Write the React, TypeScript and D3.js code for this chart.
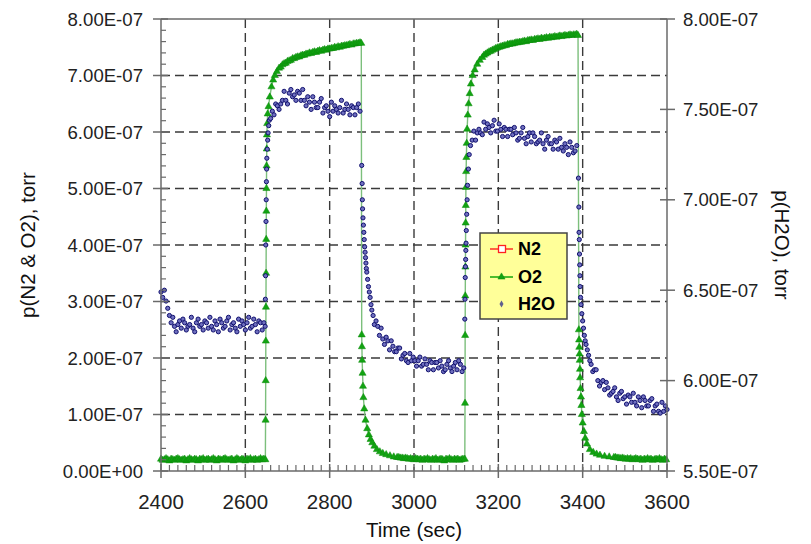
import React from 'react';
import * as d3 from 'd3';

const W = 811, H = 544;
const X_TICKS = [2400, 2600, 2800, 3000, 3200, 3400, 3600];
const Y_LEFT_TICKS = [0, 1, 2, 3, 4, 5, 6, 7, 8];
const Y_LEFT_LABELS = ["0.00E+00", "1.00E-07", "2.00E-07", "3.00E-07", "4.00E-07", "5.00E-07", "6.00E-07", "7.00E-07", "8.00E-07"];
const Y_RIGHT_TICKS = [5.5, 6, 6.5, 7, 7.5, 8];
const Y_RIGHT_LABELS = ["5.50E-07", "6.00E-07", "6.50E-07", "7.00E-07", "7.50E-07", "8.00E-07"];
const SERIES = ["N2", "O2", "H2O"];

// O2, units of 1e-7 torr (left axis). Regular-sampled stretches: start time, step, values
const O2_SEG_1 = { t0: 2400, dt: 4, v: [0.21,0.19,0.20,0.22,0.20,0.18,0.21,0.20,0.19,0.21,0.22,0.20,0.19,0.20,0.21,0.18,0.20,0.22,0.20,0.19,0.21,0.20,0.18,0.21,0.20,0.22,0.19,0.20,0.21,0.19,0.20,0.22,0.20,0.18,0.21,0.20,0.19,0.21,0.22,0.20,0.19,0.20,0.21,0.18,0.20,0.22,0.20,0.19,0.21,0.20,0.18,0.21,0.20,0.22,0.19,0.20,0.21,0.19,0.20,0.22,0.20,0.21] };
const O2_RISE_1 = [[2647.5,0.2],[2648,0.9],[2648.3,1.6],[2648.6,2.3],[2648.9,2.9],[2649.2,3.5],[2649.5,4.1],[2649.8,4.6],[2650.1,5.0],[2650.4,5.4],[2650.8,5.7],[2651.2,5.95],[2651.8,6.15],[2653,6.32],[2655,6.45],[2658,6.62],[2662,6.8],[2666,6.92],[2670,7.0],[2675,7.07],[2680,7.13]];
const O2_SEG_2 = { t0: 2684, dt: 4, v: [7.15,7.19,7.21,7.22,7.25,7.26,7.27,7.30,7.30,7.32,7.33,7.33,7.35,7.36,7.36,7.38,7.38,7.40,7.39,7.41,7.42,7.41,7.43,7.44,7.43,7.45,7.46,7.45,7.47,7.47,7.48,7.48,7.50,7.49,7.51,7.50,7.52,7.52,7.53,7.53,7.54,7.55,7.54,7.56,7.56,7.57,7.57,7.58] };
const O2_DROP_1 = [[2875,7.57],[2876,2.41],[2876.5,2.2],[2877,1.96],[2878,1.73],[2879,1.5],[2880,1.3],[2882,1.1],[2885,0.9],[2889,0.75],[2893,0.64],[2897,0.56],[2901,0.5],[2906,0.44],[2912,0.38],[2919,0.34],[2926,0.31],[2934,0.29],[2943,0.27],[2952,0.25],[2960,0.24]];
const O2_SEG_3 = { t0: 2964, dt: 4, v: [0.24,0.23,0.23,0.22,0.23,0.22,0.21,0.22,0.21,0.20,0.22,0.21,0.20,0.21,0.19,0.21,0.20,0.22,0.20,0.19,0.21,0.20,0.22,0.19,0.20,0.21,0.20,0.18,0.21,0.20,0.22,0.20,0.19,0.21,0.20,0.21,0.19,0.20,0.21] };
const O2_RISE_2 = [[3120.5,0.21],[3121,1.2],[3121.3,2.4],[3121.6,3.1],[3121.9,3.61],[3122.2,4.0],[3122.5,4.39],[3122.8,4.7],[3123.1,5.02],[3123.6,5.3],[3124.2,5.55],[3125,5.8],[3126,6.05],[3127.5,6.3],[3129.5,6.5],[3132,6.68],[3135,6.85],[3139,7.0],[3144,7.1],[3150,7.2],[3156,7.27],[3162,7.32]];
const O2_SEG_4 = { t0: 3166, dt: 4, v: [7.36,7.38,7.40,7.42,7.43,7.45,7.46,7.48,7.49,7.50,7.51,7.52,7.53,7.53,7.55,7.55,7.56,7.56,7.57,7.58,7.58,7.59,7.59,7.60,7.61,7.60,7.62,7.62,7.63,7.62,7.64,7.64,7.65,7.64,7.66,7.65,7.66,7.67,7.66,7.68,7.67,7.68,7.69,7.68,7.69,7.70,7.69,7.70,7.71,7.70,7.71,7.72,7.71,7.72,7.72,7.73] };
const O2_DROP_2 = [[3389,7.71],[3391,2.5],[3391.5,2.32],[3392,2.19],[3392.5,2.07],[3393,1.96],[3393.5,1.8],[3394,1.65],[3395,1.46],[3396,1.31],[3397,1.16],[3398,1.0],[3400,0.85],[3403,0.7],[3406,0.58],[3410,0.48],[3417,0.38],[3425,0.33],[3433,0.3],[3441,0.28],[3452,0.26],[3463,0.25],[3474,0.24]];
const O2_SEG_5 = { t0: 3478, dt: 4, v: [0.24,0.23,0.23,0.22,0.23,0.22,0.21,0.22,0.21,0.22,0.20,0.21,0.22,0.21,0.20,0.21,0.19,0.21,0.20,0.22,0.20,0.21,0.19,0.20,0.21,0.20,0.22,0.20,0.19,0.21,0.20] };

// H2O, units of 1e-7 torr (right axis)
const H2O_SEG_1 = { t0: 2400, dt: 4, v: [6.49,6.46,6.50,6.44,6.40,6.36,6.32,6.35,6.30,6.27,6.31,6.33,6.29,6.34,6.32,6.28,6.30,6.31,6.35,6.29,6.27,6.32,6.34,6.30,6.31,6.28,6.33,6.32,6.29,6.35,6.30,6.28,6.33,6.31,6.27,6.34,6.32,6.29,6.30,6.33,6.35,6.28,6.31,6.32,6.29,6.27,6.34,6.30,6.33,6.31,6.28,6.32,6.35,6.29,6.30,6.34,6.31,6.27,6.33,6.32,6.28,6.32] };
const H2O_RISE_1 = [[2647,6.30],[2647.5,6.45],[2648,6.58],[2648.5,6.75],[2649,6.88],[2649.5,7.0],[2650,7.1],[2650.5,7.17],[2651,7.23],[2652,7.28],[2653,7.33],[2654,7.37],[2655.5,7.41],[2657,7.44]];
const H2O_SEG_2 = { t0: 2660, dt: 4, v: [7.45,7.49,7.47,7.53,7.52,7.50,7.53,7.55,7.60,7.55,7.53,7.59,7.61,7.57,7.58,7.55,7.60,7.59,7.55,7.61,7.55,7.52,7.57,7.54,7.50,7.57,7.54,7.51,7.51,7.54,7.56,7.48,7.51,7.52,7.49,7.46,7.54,7.49,7.52,7.50,7.48,7.51,7.55,7.48,7.50,7.53,7.50,7.47,7.52,7.51,7.47,7.51,7.53,7.49] };
const H2O_DROP_1 = [[2876,7.19],[2877,7.09],[2877.5,7.0],[2878,6.95],[2879,6.90],[2880,6.86],[2881,6.82],[2882,6.78],[2883,6.74],[2884,6.71],[2885,6.68],[2886,6.65],[2887,6.62],[2888,6.60],[2890,6.56],[2892,6.52],[2894,6.49],[2896,6.46],[2898,6.42],[2900,6.39],[2903,6.36]];
const H2O_SEG_3 = { t0: 2906, dt: 4, v: [6.31,6.33,6.30,6.25,6.29,6.23,6.20,6.24,6.22,6.17,6.22,6.19,6.16,6.16,6.18,6.18,6.12,6.14,6.15,6.11,6.10,6.15,6.11,6.13,6.11,6.08,6.11,6.13,6.08,6.09,6.12,6.09,6.06,6.11,6.10,6.06,6.10,6.10,6.07,6.11,6.08,6.05,6.06,6.09,6.11,6.07,6.05,6.08,6.10,6.06,6.11,6.09,6.05,6.07] };
const H2O_RISE_2 = [[3120.5,6.34],[3121,6.45],[3121.5,6.57],[3122,6.63],[3122.5,6.67],[3123,6.72],[3123.5,6.76],[3124,6.83],[3125,6.92],[3126,7.0],[3127,7.08],[3129,7.17],[3131,7.25],[3134,7.30],[3138,7.33]];
const H2O_SEG_4 = { t0: 3142, dt: 4, v: [7.38,7.33,7.37,7.39,7.37,7.36,7.43,7.39,7.42,7.40,7.37,7.41,7.44,7.38,7.38,7.42,7.39,7.35,7.40,7.39,7.35,7.39,7.39,7.36,7.40,7.37,7.33,7.34,7.37,7.40,7.34,7.31,7.35,7.37,7.32,7.37,7.35,7.31,7.32,7.33,7.37,7.31,7.28,7.33,7.35,7.31,7.31,7.28,7.33,7.32,7.28,7.34,7.29,7.27,7.31,7.29,7.25,7.32,7.29,7.26,7.27,7.30] };
const H2O_DROP_2 = [[3390,7.12],[3391,6.96],[3391.5,6.82],[3392,6.78],[3392.5,6.70],[3393,6.64],[3393.5,6.58],[3394,6.52],[3395,6.46],[3396,6.42],[3398,6.37],[3400,6.33],[3402,6.29],[3404,6.25],[3406,6.22],[3408,6.20],[3411,6.17],[3414,6.14],[3417,6.11],[3420,6.09]];
const H2O_SEG_5 = { t0: 3424, dt: 4, v: [6.05,6.06,6.06,6.00,5.97,5.99,6.00,5.95,5.99,5.96,5.92,5.93,5.94,5.96,5.91,5.89,5.93,5.94,5.90,5.91,5.87,5.92,5.91,5.88,5.93,5.88,5.86,5.91,5.89,5.85,5.91,5.89,5.86,5.86,5.89,5.90,5.83,5.86,5.87,5.83,5.82,5.88,5.83,5.86,5.84] };

type Seg = { t0: number; dt: number; v: number[] };
const segPts = (s: Seg) => s.v.map((v, i) => [s.t0 + i * s.dt, v] as [number, number]);

const O2_DATA: [number, number][] = [
  ...segPts(O2_SEG_1), ...O2_RISE_1, ...segPts(O2_SEG_2), ...O2_DROP_1, ...segPts(O2_SEG_3),
  ...O2_RISE_2, ...segPts(O2_SEG_4), ...O2_DROP_2, ...segPts(O2_SEG_5),
] as [number, number][];
const H2O_DATA: [number, number][] = [
  ...segPts(H2O_SEG_1), ...H2O_RISE_1, ...segPts(H2O_SEG_2), ...H2O_DROP_1, ...segPts(H2O_SEG_3),
  ...H2O_RISE_2, ...segPts(H2O_SEG_4), ...H2O_DROP_2, ...segPts(H2O_SEG_5),
] as [number, number][];

const FONT = "'Liberation Sans', Arial, Helvetica, sans-serif";

export default function App() {
  const L = 161, R = 667, T = 19, B = 471;
  const x = d3.scaleLinear().domain([2400, 3600]).range([L, R]);
  const yL = d3.scaleLinear().domain([0, 8]).range([B, T]);
  const yR = d3.scaleLinear().domain([5.5, 8]).range([B, T]);

  const o2Line = d3.line<[number, number]>().x(d => x(d[0])).y(d => yL(d[1]))(O2_DATA) || '';
  const tri = d3.symbol().type(d3.symbolTriangle).size(22)() || '';
  const triLeg = d3.symbol().type(d3.symbolTriangle).size(22)() || '';
  const dia = d3.symbol().type(d3.symbolDiamond).size(14)() || '';

  const xMinor = d3.range(2400, 3601, 20).filter(t => t % 200 !== 0);
  const yMinor = d3.range(0, 8.001, 0.2).filter(v => Math.abs(v - Math.round(v)) > 0.01);

  const grid = '#3a3a3a';
  const axis = '#6a6a6a';

  const legX = 480, legY = 233, legW = 87, legH = 86;
  const legRows = [249, 277, 304];

  return (
    <svg width={W} height={H} style={{ position: 'absolute', left: 0, top: 0, background: '#fff' }} fontFamily={FONT}>
      {/* gridlines */}
      {X_TICKS.slice(1, -1).map(t => (
        <line key={'gx' + t} x1={x(t)} x2={x(t)} y1={T} y2={B} stroke={grid} strokeWidth={1.4} strokeDasharray="9,5" />
      ))}
      {Y_LEFT_TICKS.slice(1, -1).map(v => (
        <line key={'gy' + v} x1={L} x2={R} y1={yL(v)} y2={yL(v)} stroke={grid} strokeWidth={1.4} strokeDasharray="9,5" />
      ))}
      <line x1={L} x2={R} y1={T} y2={T} stroke={axis} strokeWidth={1.5} />

      {/* O2 */}
      <path d={o2Line} fill="none" stroke="#7cbf7c" strokeWidth={1.4} />
      {O2_DATA.map((d, i) => (
        <path key={'o' + i} d={tri} transform={`translate(${x(d[0])},${yL(d[1])})`} fill="#12a312" stroke="#0a8a0a" strokeWidth={0.5} />
      ))}
      {/* H2O */}
      {H2O_DATA.map((d, i) => (
        <circle key={'h' + i} cx={x(d[0])} cy={yR(d[1])} r={2.1} fill="#6f6fbf" stroke="#10106e" strokeWidth={1} />
      ))}

      {/* axes */}
      <line x1={L} x2={L} y1={T} y2={B} stroke={axis} strokeWidth={1.5} />
      <line x1={R} x2={R} y1={T} y2={B} stroke={axis} strokeWidth={1.5} />
      <line x1={L} x2={R} y1={B} y2={B} stroke={axis} strokeWidth={1.5} />
      {xMinor.map(t => (
        <line key={'xm' + t} x1={x(t)} x2={x(t)} y1={B} y2={B - 6} stroke={axis} strokeWidth={1.2} />
      ))}
      {X_TICKS.map(t => (
        <g key={'xt' + t}>
          <line x1={x(t)} x2={x(t)} y1={B - 7} y2={B + 7} stroke={axis} strokeWidth={1.5} />
          <text x={x(t)} y={509} textAnchor="middle" fontSize={20.5} fill="#222">{t}</text>
        </g>
      ))}
      {yMinor.map(v => (
        <line key={'ym' + v.toFixed(1)} x1={L} x2={L + 5} y1={yL(v)} y2={yL(v)} stroke={axis} strokeWidth={1.2} />
      ))}
      {Y_LEFT_TICKS.map((v, i) => (
        <g key={'yl' + v}>
          <line x1={L - 8} x2={L + 7} y1={yL(v)} y2={yL(v)} stroke={axis} strokeWidth={1.5} />
          <text x={143} y={yL(v)} dy="0.36em" textAnchor="end" fontSize={18.6} fill="#222">{Y_LEFT_LABELS[i]}</text>
        </g>
      ))}
      {Y_RIGHT_TICKS.map((v, i) => (
        <g key={'yr' + v}>
          <line x1={R - 7} x2={R + 8} y1={yR(v)} y2={yR(v)} stroke={axis} strokeWidth={1.5} />
          <text x={683} y={yR(v)} dy="0.36em" textAnchor="start" fontSize={18.6} fill="#222">{Y_RIGHT_LABELS[i]}</text>
        </g>
      ))}

      {/* axis titles */}
      <text x={(L + R) / 2} y={537} textAnchor="middle" fontSize={20.5} fill="#111">Time (sec)</text>
      <text transform={`translate(35,${(T + B) / 2}) rotate(-90)`} textAnchor="middle" fontSize={20.5} fill="#111">p(N2 &amp; O2), torr</text>
      <text transform={`translate(775,${(T + B) / 2}) rotate(90)`} textAnchor="middle" fontSize={20.5} fill="#111">p(H2O), torr</text>

      {/* legend */}
      <rect x={legX} y={legY} width={legW} height={legH} fill="#ffff99" stroke="#444" strokeWidth={1.5} />
      <line x1={490} x2={513} y1={legRows[0]} y2={legRows[0]} stroke="#ff2020" strokeWidth={1.4} />
      <rect x={498.5} y={legRows[0] - 3.5} width={7} height={7} fill="#fff" stroke="#ff2020" strokeWidth={1.3} />
      <line x1={490} x2={513} y1={legRows[1]} y2={legRows[1]} stroke="#00a000" strokeWidth={1.4} />
      <path d={triLeg} transform={`translate(501.5,${legRows[1]})`} fill="#12a312" stroke="#0a8a0a" strokeWidth={0.5} />
      <path d={dia} transform={`translate(501.5,${legRows[2]})`} fill="#60608e" />
      {SERIES.map((s, i) => (
        <text key={s} x={518} y={legRows[i]} dy="0.36em" fontSize={18} fontWeight="bold" fill="#000">{s}</text>
      ))}
    </svg>
  );
}
